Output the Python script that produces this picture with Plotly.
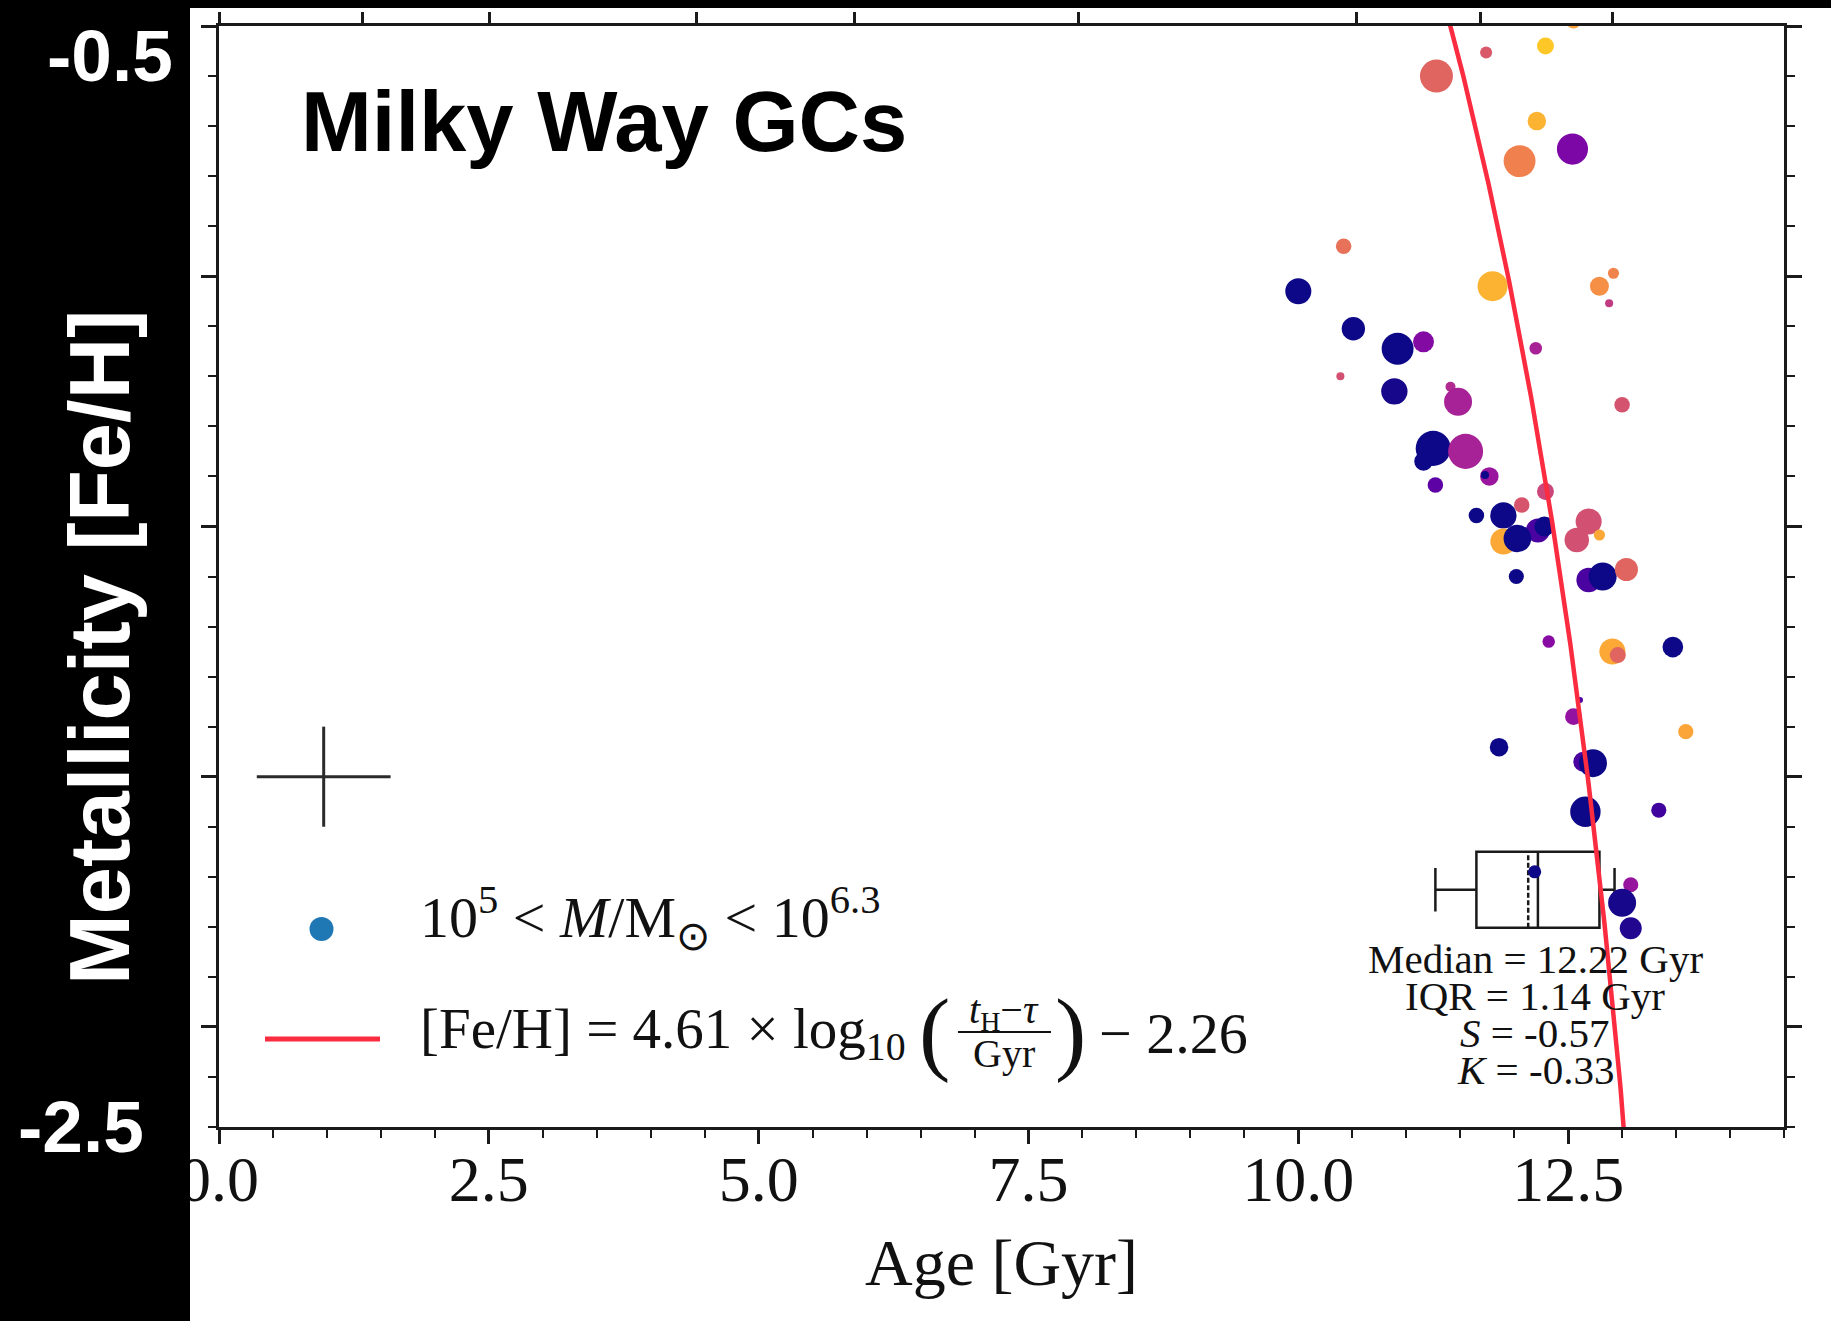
import numpy as np
import plotly.graph_objects as go

# ---------------------------------------------------------------------------
# Milky Way globular clusters: age [Gyr], metallicity [Fe/H],
# log10 of cluster mass [Msun] and the colour-coded quantity (normalised 0-1)
# ---------------------------------------------------------------------------
gc_age = [12.55, 12.29, 11.74, 11.28, 12.21, 12.05, 12.54, 10.42, 10.00, 11.80,
          12.79, 12.92, 12.88, 10.51, 10.92, 11.16, 10.39, 12.20, 10.89, 11.41,
          11.48, 13.00, 11.25, 11.16, 11.55, 11.77, 11.73, 11.27, 12.29, 12.07,
          11.65, 11.90, 12.22, 12.28, 11.90, 12.03, 12.69, 12.58, 12.79, 12.02,
          12.69, 12.82, 13.04, 12.32, 12.91, 12.96, 13.47, 12.61, 12.55, 13.59,
          11.86, 12.64, 12.73, 12.66, 13.34, 12.19, 13.08, 13.00, 13.08]
gc_feh = [-0.49, -0.54, -0.553, -0.60, -0.69, -0.77, -0.746, -0.94, -1.03, -1.02,
          -1.02, -0.994, -1.054, -1.105, -1.145, -1.131, -1.20, -1.144, -1.23, -1.221,
          -1.251, -1.257, -1.344, -1.37, -1.35, -1.40, -1.397, -1.417, -1.43, -1.457,
          -1.478, -1.478, -1.508, -1.50, -1.53, -1.524, -1.49, -1.527, -1.517, -1.60,
          -1.607, -1.60, -1.586, -1.73, -1.75, -1.757, -1.741, -1.847, -1.88, -1.91,
          -1.941, -1.97, -1.973, -2.07, -2.067, -2.19, -2.216, -2.252, -2.303]
gc_logmass = [5.60, 5.69, 5.43, 6.24, 5.76, 6.21, 6.19, 5.62, 6.04, 6.16,
              5.78, 5.37, 5.16, 5.95, 6.21, 5.86, 5.16, 5.46, 6.05, 5.30,
              6.10, 5.62, 6.29, 5.76, 6.29, 5.76, 5.16, 5.62, 5.69, 5.62,
              5.62, 6.05, 5.97, 5.82, 6.04, 6.09, 6.04, 5.99, 5.37, 5.60,
              5.99, 6.10, 5.94, 5.46, 6.04, 5.65, 5.85, 5.00, 5.69, 5.60,
              5.76, 5.82, 6.10, 6.17, 5.60, 5.49, 5.60, 6.10, 5.90]
gc_colour = [0.78, 0.88, 0.56, 0.60, 0.83, 0.69, 0.25, 0.64, 0.00, 0.83,
             0.73, 0.70, 0.46, 0.00, 0.00, 0.27, 0.53, 0.37, 0.02, 0.40,
             0.37, 0.54, 0.00, 0.00, 0.37, 0.33, 0.00, 0.17, 0.50, 0.55,
             0.00, 0.00, 0.12, 0.00, 0.80, 0.00, 0.53, 0.53, 0.80, 0.00,
             0.12, 0.00, 0.60, 0.28, 0.80, 0.60, 0.00, 0.15, 0.31, 0.79,
             0.00, 0.12, 0.00, 0.00, 0.10, 0.00, 0.32, 0.02, 0.04]

# age-metallicity relation: [Fe/H] = slope * log10((t_H - tau) / Gyr) + offset
fit_slope = 4.61
fit_offset = -2.26
hubble_time = 13.82

# summary of the age distribution
age_q1 = 11.65
age_median = 12.22
age_q3 = 12.79
age_whisker_low = 11.27
age_whisker_high = 12.93
age_mean = 12.13
age_iqr = 1.14
age_skewness = -0.57
age_kurtosis = -0.33

# typical measurement uncertainties
err_age = 0.62
err_feh = 0.10

# axis ticks
age_ticks = [0.0, 2.5, 5.0, 7.5, 10.0, 12.5]
feh_ticks = [-0.5, -1.0, -1.5, -2.0, -2.5]
# lookback times of the redshift ticks on the upper axis
redshift_tick_ages = [0.0, 1.33, 2.51, 4.42, 5.89, 7.96, 10.54, 11.69, 12.91]

# ---------------------------------------------------------------------------
W, H = 1831, 1321
L, R, T, B = 219, 1784, 26, 1127           # plot-area edges in pixels
AX = "#1a1a1a"
SERIF = "Liberation Serif, Times New Roman, serif"
SANS = "Liberation Sans, Arial, Helvetica, sans-serif"
FIT_RED = "#fb2b40"


def px(x):
    return (x - L) / (R - L)


def py(y):
    return (B - y) / (B - T)


def marker_diameter(logm):
    # marker area grows linearly with cluster mass
    m6 = 10 ** (np.asarray(logm) - 6.0)
    return np.sqrt(644.0 * m6 - 28.4)


fig = go.Figure()

# box-and-whisker summary of the cluster ages
fig.add_trace(go.Box(
    orientation="h", y=[-2.226],
    q1=[age_q1], median=[age_median], q3=[age_q3],
    lowerfence=[age_whisker_low], upperfence=[age_whisker_high], mean=[age_mean],
    boxmean=True, boxpoints=False, width=0.152, whiskerwidth=0.57,
    line=dict(color=AX, width=2.5), fillcolor="rgba(255,255,255,0)",
    showlegend=False, hoverinfo="skip"))

# the clusters
fig.add_trace(go.Scatter(
    x=gc_age, y=gc_feh, mode="markers",
    marker=dict(size=marker_diameter(gc_logmass), color=gc_colour,
                colorscale="Plasma", cmin=0, cmax=1, showscale=False,
                line=dict(width=0), opacity=1),
    showlegend=False, hoverinfo="skip"))

# typical error bar
fig.add_trace(go.Scatter(
    x=[0.97], y=[-2.0], mode="markers",
    marker=dict(size=1, color="rgba(0,0,0,0)"),
    error_x=dict(type="constant", value=err_age, thickness=3, width=0, color="#2b2b2b"),
    error_y=dict(type="constant", value=err_feh, thickness=3, width=0, color="#2b2b2b"),
    showlegend=False, hoverinfo="skip"))

# fitted age-metallicity relation
tau = np.linspace(11.0, 13.2, 300)
feh_fit = fit_slope * np.log10(hubble_time - tau) + fit_offset
fig.add_trace(go.Scatter(
    x=tau, y=feh_fit, mode="lines", xaxis="x2", yaxis="y",
    line=dict(color=FIT_RED, width=4.5),
    showlegend=False, hoverinfo="skip"))

shapes = [
    # dark side panel and top strip
    dict(type="rect", xref="paper", yref="paper", x0=px(0), x1=px(190),
         y0=py(H), y1=py(0), fillcolor="black", line=dict(width=0), layer="above"),
    dict(type="rect", xref="paper", yref="paper", x0=px(0), x1=px(W),
         y0=py(8), y1=py(0), fillcolor="black", line=dict(width=0), layer="above"),
    # legend glyphs
    dict(type="circle", xref="paper", yref="paper", xsizemode="pixel", ysizemode="pixel",
         xanchor=px(321.5), yanchor=py(929), x0=-12, x1=12, y0=-12, y1=12,
         fillcolor="#1f77b4", line=dict(width=0)),
    dict(type="line", xref="paper", yref="paper", x0=px(265), x1=px(380),
         y0=py(1039), y1=py(1039), line=dict(color=FIT_RED, width=5)),
    # fraction bar of the legend formula
    dict(type="line", xref="paper", yref="paper", x0=px(958), x1=px(1051),
         y0=py(1032), y1=py(1032), line=dict(color="#111", width=2)),
]


def note(text, x, y, size, xanchor="left", family=SERIF, color="#111", angle=0):
    return dict(text=text, x=px(x), y=py(y), xref="paper", yref="paper",
                xanchor=xanchor, yanchor="middle", showarrow=False, textangle=angle,
                font=dict(family=family, size=size, color=color))


annotations = [
    note("<b>Milky Way GCs</b>", 299, 121, 85, family=SANS, color="black"),
    note("<b>Metallicity [Fe/H]</b>", 99, 648, 85, xanchor="center", family=SANS,
         color="white", angle=-90),
    note("<b>%.1f</b>" % feh_ticks[0], 175, 56, 73, xanchor="right", family=SANS, color="white"),
    note("<b>%.1f</b>" % feh_ticks[-1], 146, 1126, 73, xanchor="right", family=SANS, color="white"),
    note("Age [Gyr]", 1001, 1262, 66, xanchor="center"),
    # legend
    note("10<sup>5</sup> &lt; <i>M</i>/M<sub>⊙</sub> &lt; 10<sup>6.3</sup>", 418, 918, 58),
    note("[Fe/H] = %.2f × log<sub>10</sub>" % fit_slope, 418, 1033, 57),
    note("(", 917, 1031, 94),
    note("<i>t</i><sub>H</sub>−<i>τ</i>", 1004, 1012, 40, xanchor="center"),
    note("Gyr", 1004, 1053, 40, xanchor="center"),
    note(")", 1053, 1031, 94),
    note("− %.2f" % abs(fit_offset), 1097, 1033, 58),
    # age-distribution statistics
    note("Median = %.2f Gyr" % age_median, 1535, 959, 41, xanchor="center"),
    note("IQR = %.2f Gyr" % age_iqr, 1535, 996, 41, xanchor="center"),
    note("<i>S</i> = %.2f" % age_skewness, 1535, 1033, 41, xanchor="center"),
    note("<i>K</i> = %.2f" % age_kurtosis, 1535, 1070, 41, xanchor="center"),
]

fig.update_layout(
    width=W, height=H,
    margin=dict(l=L, r=W - R, t=T, b=H - B, pad=0),
    paper_bgcolor="white", plot_bgcolor="white",
    showlegend=False,
    shapes=shapes, annotations=annotations,
    xaxis=dict(range=[0, 14.5], tickvals=age_ticks, ticktext=["%.1f" % v for v in age_ticks],
               ticks="outside", ticklen=14, tickwidth=2.5, tickcolor=AX,
               showline=True, linewidth=3, linecolor=AX, mirror=True,
               showgrid=False, zeroline=False, ticklabelstandoff=-20,
               tickfont=dict(family=SERIF, size=64, color="#111"),
               minor=dict(dtick=0.5, tick0=0, ticks="outside", ticklen=8, tickwidth=2,
                          tickcolor=AX, showgrid=False)),
    xaxis2=dict(range=[0, 14.5], overlaying="x", side="top", anchor="y",
                tickvals=redshift_tick_ages, ticks="outside", ticklen=13, tickwidth=2.5,
                tickcolor=AX, showticklabels=False, showline=False,
                showgrid=False, zeroline=False),
    yaxis=dict(range=[-2.7, -0.5], tickvals=feh_ticks, ticks="outside", ticklen=15,
               tickwidth=2.5, tickcolor=AX, showticklabels=False,
               showline=True, linewidth=3, linecolor=AX, mirror="ticks",
               showgrid=False, zeroline=False,
               minor=dict(dtick=0.1, tick0=-0.5, ticks="outside", ticklen=8, tickwidth=2,
                          tickcolor=AX, showgrid=False)),
)

fig.write_html("out.html")
